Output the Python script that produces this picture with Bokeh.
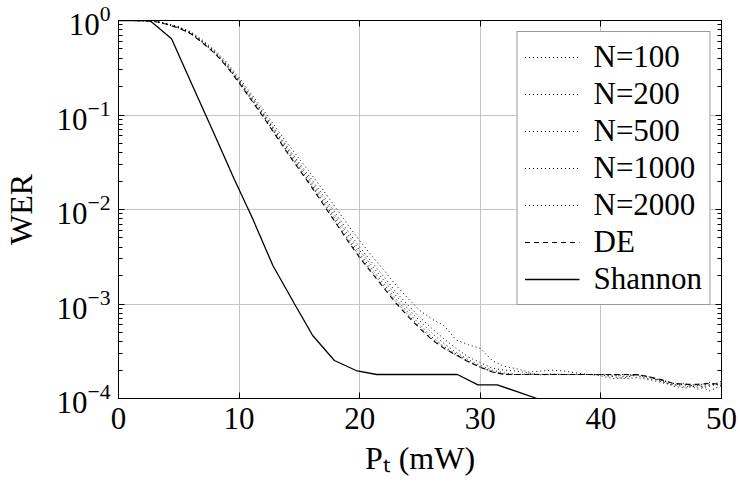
import numpy as np
from bokeh.plotting import figure
from bokeh.models import (Range1d, LogAxis, LinearAxis, FixedTicker, Legend,
                          LegendItem, CustomJSTickFormatter)
from bokeh.embed import file_html
from bokeh.resources import INLINE

# ---------------- data (WER given as log10 values) ----------
x_pt = list(range(0, 51))  # P_t in mW

de_log10 = [0, 0, -0.002, -0.01, -0.04, -0.08, -0.14, -0.24, -0.35, -0.49,
            -0.66, -0.84, -1.02, -1.21, -1.40, -1.58, -1.76, -1.95, -2.14, -2.33,
            -2.51, -2.67, -2.83, -2.99, -3.13, -3.26, -3.38, -3.47, -3.54, -3.61,
            -3.67, -3.72, -3.746, -3.746, -3.746, -3.746, -3.746, -3.746, -3.746, -3.746,
            -3.746, -3.746, -3.746, -3.746, -3.77, -3.80, -3.84, -3.85, -3.85, -3.84,
            -3.85]

n100_log10 = [0, 0, -0.002, -0.005, -0.03, -0.065, -0.12, -0.21, -0.315, -0.445,
              -0.605, -0.775, -0.945, -1.125, -1.30, -1.465, -1.63, -1.80, -1.98, -2.16,
              -2.33, -2.49, -2.64, -2.80, -2.94, -3.07, -3.16, -3.23, -3.38, -3.43,
              -3.47, -3.60, -3.66, -3.685, -3.72, -3.71, -3.70, -3.71, -3.73, -3.746,
              -3.75, -3.77, -3.79, -3.78, -3.80, -3.83, -3.86, -3.84, -3.90, -3.87,
              -3.84]

n200_log10 = [0, 0, -0.002, -0.007, -0.034, -0.071, -0.128, -0.221, -0.328, -0.462,
              -0.626, -0.80, -0.973, -1.157, -1.338, -1.509, -1.679, -1.857, -2.041, -2.225,
              -2.398, -2.558, -2.712, -2.872, -3.012, -3.142, -3.26, -3.37, -3.47, -3.56,
              -3.62, -3.68, -3.70, -3.71, -3.73, -3.746, -3.74, -3.746, -3.746, -3.746,
              -3.76, -3.79, -3.78, -3.75, -3.77, -3.82, -3.85, -3.88, -3.85, -3.92,
              -3.86]

n500_log10 = [0, 0, -0.002, -0.008, -0.036, -0.074, -0.132, -0.227, -0.335, -0.471,
              -0.637, -0.813, -0.989, -1.174, -1.358, -1.532, -1.705, -1.887, -2.073, -2.259,
              -2.434, -2.594, -2.75, -2.91, -3.05, -3.18, -3.31, -3.42, -3.51, -3.59,
              -3.65, -3.70, -3.73, -3.746, -3.74, -3.75, -3.746, -3.746, -3.746, -3.746,
              -3.746, -3.76, -3.75, -3.76, -3.79, -3.81, -3.87, -3.89, -3.86, -3.83,
              -3.87]

n1000_log10 = [0, 0, -0.002, -0.009, -0.038, -0.077, -0.136, -0.233, -0.342, -0.48,
               -0.648, -0.826, -1.004, -1.191, -1.378, -1.555, -1.731, -1.917, -2.105, -2.293,
               -2.47, -2.63, -2.788, -2.948, -3.088, -3.218, -3.35, -3.45, -3.53, -3.605,
               -3.665, -3.715, -3.74, -3.746, -3.746, -3.746, -3.746, -3.746, -3.746, -3.746,
               -3.746, -3.75, -3.77, -3.746, -3.78, -3.80, -3.84, -3.86, -3.88, -3.86,
               -3.82]

n2000_log10 = [0, 0, -0.002, -0.01, -0.039, -0.079, -0.138, -0.238, -0.347, -0.486,
               -0.656, -0.835, -1.014, -1.203, -1.392, -1.571, -1.75, -1.938, -2.127, -2.316,
               -2.496, -2.656, -2.815, -2.975, -3.115, -3.245, -3.37, -3.465, -3.54, -3.61,
               -3.67, -3.72, -3.746, -3.746, -3.746, -3.746, -3.746, -3.746, -3.746, -3.746,
               -3.746, -3.746, -3.746, -3.75, -3.77, -3.81, -3.84, -3.85, -3.86, -3.85,
               -3.85]

shannon_x = [0, 2.6, 4.4, 6.1, 7.9, 9.6, 11.1, 12.8, 14.6, 16.1, 17.9, 19.7, 21.4,
             23.1, 24.8, 26.5, 28.1, 29.8, 31.4, 34.7]
shannon_log10 = [0, 0, -0.194, -0.68, -1.19, -1.68, -2.09, -2.593, -3.0, -3.333,
                 -3.598, -3.704, -3.746, -3.746, -3.746, -3.746, -3.746, -3.855, -3.855, -4.0]

series_labels = ["N=100", "N=200", "N=500", "N=1000", "N=2000", "DE", "Shannon"]
x_ticks = [0, 10, 20, 30, 40, 50]
y_ticks = [1e-4, 1e-3, 1e-2, 1e-1, 1e0]
y_minor = [m * 10.0 ** e for e in range(-4, 0) for m in range(2, 10)]

FONT = "Liberation Serif"
FS = "31px"

# ---------------- figure ----------------
p = figure(width=738, height=481, output_backend="svg", toolbar_location=None,
           x_range=Range1d(0, 50), y_range=Range1d(1e-4, 1), y_axis_type="log",
           min_border_left=117, min_border_right=17, min_border_top=20,
           min_border_bottom=83, background_fill_color="white",
           border_fill_color="white")
p.outline_line_color = "black"
p.outline_line_width = 1
p.outline_line_alpha = 1

# bottom axis
xa = p.xaxis[0]
xa.ticker = FixedTicker(ticks=x_ticks)
xa.major_tick_in = 6
xa.major_tick_out = 0
xa.minor_tick_line_color = None
xa.axis_line_color = "black"
xa.major_label_text_font = FONT
xa.major_label_text_font_size = FS
xa.major_label_text_color = "black"
xa.major_label_standoff = 9
xa.axis_label = "Pₜ (mW)"
xa.axis_label_text_font = FONT
xa.axis_label_text_font_size = "32px"
xa.axis_label_text_font_style = "normal"
xa.axis_label_text_color = "black"
xa.axis_label_standoff = 8

# left axis
ya = p.yaxis[0]
ya.ticker = FixedTicker(ticks=y_ticks, minor_ticks=y_minor)
ya.major_tick_in = 6
ya.major_tick_out = 0
ya.minor_tick_in = 4
ya.minor_tick_out = 0
ya.axis_line_color = "black"
ya.major_label_text_font = FONT
ya.major_label_text_font_size = FS
ya.major_label_text_color = "black"
ya.major_label_standoff = 8
ya.axis_label = "WER"
ya.axis_label_text_font = FONT
ya.axis_label_text_font_size = "32px"
ya.axis_label_text_font_style = "normal"
ya.axis_label_text_color = "black"
ya.axis_label_standoff = 14

empty = CustomJSTickFormatter(code="return ''")
ra = LogAxis(ticker=FixedTicker(ticks=y_ticks, minor_ticks=y_minor), formatter=empty,
             major_tick_in=6, major_tick_out=0, minor_tick_in=4, minor_tick_out=0,
             major_label_standoff=0, axis_line_color="black")
p.add_layout(ra, "right")
ta = LinearAxis(ticker=FixedTicker(ticks=x_ticks), formatter=empty,
                major_tick_in=6, major_tick_out=0, minor_tick_line_color=None,
                major_label_standoff=0, axis_line_color="black")
p.add_layout(ta, "above")

p.grid.grid_line_color = "#c4c4c4"
p.grid.grid_line_width = 1
p.xgrid.ticker = FixedTicker(ticks=x_ticks[1:-1])
p.ygrid.ticker = FixedTicker(ticks=y_ticks[1:-1])

# ---------------- curves ----------------
xs = np.array(x_pt, dtype=float)
renderers = []
for vals in [n100_log10, n200_log10, n500_log10, n1000_log10, n2000_log10]:
    r = p.line(xs, 10.0 ** np.array(vals), line_color="black", line_width=1,
               line_dash="1 3")
    renderers.append(r)
r_de = p.line(xs, 10.0 ** np.array(de_log10), line_color="black", line_width=1.1,
              line_dash="5 4")
renderers.append(r_de)
r_sh = p.line(np.array(shannon_x), 10.0 ** np.array(shannon_log10),
              line_color="black", line_width=1.3)
renderers.append(r_sh)

legend = Legend(items=[LegendItem(label=lab, renderers=[r])
                       for lab, r in zip(series_labels, renderers)],
                location="top_right", margin=11, padding=7, spacing=1,
                glyph_width=55, glyph_height=36, label_height=36, label_standoff=14,
                label_text_font=FONT, label_text_font_size=FS,
                label_text_color="black", border_line_color="#333333",
                border_line_width=1, background_fill_color="white",
                background_fill_alpha=1)
p.add_layout(legend)

open("out.html", "w").write(file_html(p, INLINE))
